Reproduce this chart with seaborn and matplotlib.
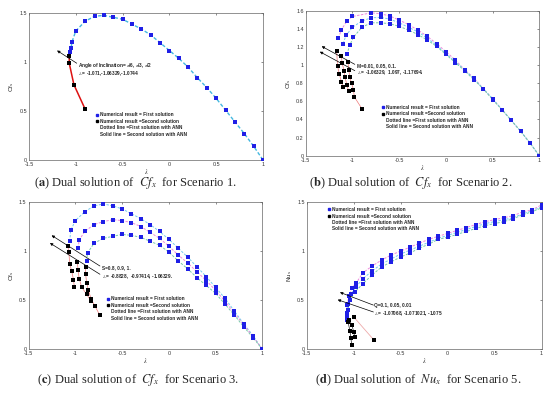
import numpy as np
import pandas as pd
import matplotlib
matplotlib.use("Agg")
import matplotlib.pyplot as plt
from matplotlib.lines import Line2D
import seaborn as sns

sns.set_style("white")
plt.rcParams['font.family'] = ['Liberation Sans', 'DejaVu Sans']
plt.rcParams['mathtext.fontset'] = 'stix'

BLUE = '#1f1fe6'

# ---- (a) Cf_x, Scenario 1 ----
lam_a1 = [-1.06, -1.05, -1.04, -1.0, -0.9, -0.8, -0.7, -0.6, -0.5, -0.4, -0.3, -0.2, -0.1, 0.0,
          0.1, 0.2, 0.3, 0.4, 0.5, 0.6, 0.7, 0.8, 0.9, 1.0]
cf_a1 = [1.10, 1.15, 1.21, 1.32, 1.42, 1.47, 1.48, 1.46, 1.44, 1.39, 1.34, 1.28, 1.20, 1.12,
         1.04, 0.95, 0.84, 0.74, 0.63, 0.51, 0.39, 0.27, 0.14, 0.0]
lam_a2 = [-1.07, -1.07, -1.02, -0.9]
cf_a2 = [1.06, 0.99, 0.77, 0.52]

# ---- (b) Cf_x, Scenario 2 (M = 0.01, 0.05, 0.1) ----
lam_b1 = [-1.15, -1.12, -1.06, -1.0, -0.8, -0.7, -0.6, -0.5, -0.4, -0.3, -0.2, -0.1, 0.0,
          0.1, 0.2, 0.3, 0.4, 0.5, 0.6, 0.7, 0.8, 0.9, 1.0]
cf_b1 = [1.30, 1.39, 1.49, 1.54, 1.58, 1.57, 1.545, 1.50, 1.45, 1.39, 1.32, 1.24, 1.15,
         1.06, 0.95, 0.86, 0.74, 0.63, 0.51, 0.39, 0.27, 0.14, 0.0]
lam_b2 = [-1.1, -1.07, -1.0, -0.9, -0.8, -0.7, -0.6, -0.5, -0.4, -0.3, -0.2, -0.1, 0.0,
          0.1, 0.2, 0.3, 0.4, 0.5, 0.6, 0.7, 0.8, 0.9, 1.0]
cf_b2 = [1.24, 1.33, 1.42, 1.49, 1.525, 1.53, 1.51, 1.47, 1.42, 1.37, 1.30, 1.22, 1.13,
         1.04, 0.95, 0.85, 0.74, 0.63, 0.51, 0.39, 0.27, 0.14, 0.0]
lam_b3 = [-1.06, -1.03, -0.99, -0.9, -0.8, -0.7, -0.6, -0.5, -0.4, -0.3, -0.2, -0.1, 0.0,
          0.1, 0.2, 0.3, 0.4, 0.5, 0.6, 0.7, 0.8, 0.9, 1.0]
cf_b3 = [1.12, 1.22, 1.31, 1.42, 1.47, 1.47, 1.46, 1.43, 1.39, 1.34, 1.28, 1.21, 1.12,
         1.03, 0.94, 0.84, 0.74, 0.62, 0.51, 0.39, 0.27, 0.14, 0.0]
lam_b4 = [-1.17, -1.16, -1.14, -1.12, -1.10]
cf_b4 = [1.16, 0.99, 0.90, 0.82, 0.76]
lam_b5 = [-1.12, -1.11, -1.09, -1.08, -1.06, -1.04]
cf_b5 = [1.10, 1.02, 0.94, 0.87, 0.78, 0.71]
lam_b6 = [-1.05, -1.04, -1.03, -1.01, -0.99, -0.98, -0.9]
cf_b6 = [1.04, 0.95, 0.87, 0.80, 0.73, 0.65, 0.52]

# ---- (c) Cf_x, Scenario 3 (S = 0.8, 0.9, 1) ----
lam_c1 = [-1.06, -1.05, -1.0, -0.9, -0.8, -0.7, -0.6, -0.5, -0.4, -0.3, -0.2, -0.1, 0.0,
          0.1, 0.2, 0.3, 0.4, 0.5, 0.6, 0.7, 0.8, 0.9, 1.0]
cf_c1 = [1.10, 1.21, 1.31, 1.40, 1.46, 1.48, 1.46, 1.43, 1.38, 1.33, 1.27, 1.20, 1.12,
         1.03, 0.94, 0.84, 0.74, 0.63, 0.52, 0.39, 0.26, 0.14, 0.0]
lam_c2 = [-0.97, -0.96, -0.9, -0.8, -0.7, -0.6, -0.5, -0.4, -0.3, -0.2, -0.1, 0.0,
          0.1, 0.2, 0.3, 0.4, 0.5, 0.6, 0.7, 0.8, 0.9, 1.0]
cf_c2 = [1.03, 1.11, 1.20, 1.27, 1.30, 1.32, 1.31, 1.29, 1.25, 1.19, 1.13, 1.05,
         0.96, 0.88, 0.79, 0.70, 0.60, 0.49, 0.37, 0.25, 0.13, 0.0]
lam_c3 = [-0.88, -0.87, -0.8, -0.7, -0.6, -0.5, -0.4, -0.3, -0.2, -0.1, 0.0,
          0.1, 0.2, 0.3, 0.4, 0.5, 0.6, 0.7, 0.8, 0.9, 1.0]
cf_c3 = [0.90, 0.98, 1.08, 1.13, 1.15, 1.17, 1.16, 1.14, 1.10, 1.06, 0.99,
         0.90, 0.82, 0.73, 0.65, 0.57, 0.46, 0.35, 0.23, 0.12, 0.0]
lam_c4 = [-1.08, -1.07, -1.06, -1.04, -1.02, -1.01]
cf_c4 = [1.05, 0.99, 0.87, 0.80, 0.71, 0.63]
lam_c5 = [-0.98, -0.97, -0.96, -0.93, -0.88, -0.83]
cf_c5 = [0.89, 0.81, 0.72, 0.63, 0.56, 0.49]
lam_c6 = [-0.89, -0.89, -0.88, -0.86, -0.83, -0.79, -0.74]
cf_c6 = [0.84, 0.77, 0.68, 0.60, 0.51, 0.44, 0.35]

# ---- (d) Nu_x, Scenario 5 (Q = 0.1, 0.05, 0.01) ----
lam_d1 = [-1.07, -1.07, -1.05, -1.02, -0.97, -0.9, -0.8, -0.7, -0.6, -0.5, -0.4, -0.3, -0.2,
          -0.1, 0.0, 0.1, 0.2, 0.3, 0.4, 0.5, 0.6, 0.7, 0.8, 0.9, 1.0]
nu_d1 = [0.37, 0.45, 0.54, 0.62, 0.68, 0.78, 0.85, 0.91, 0.96, 1.00, 1.04, 1.08, 1.12,
         1.15, 1.18, 1.21, 1.24, 1.27, 1.30, 1.32, 1.34, 1.36, 1.40, 1.42, 1.47]
lam_d2 = [-1.07, -1.06, -1.03, -0.98, -0.9, -0.8, -0.7, -0.6, -0.5, -0.4, -0.3, -0.2,
          -0.1, 0.0, 0.1, 0.2, 0.3, 0.4, 0.5, 0.6, 0.7, 0.8, 0.9, 1.0]
nu_d2 = [0.34, 0.46, 0.56, 0.63, 0.72, 0.80, 0.87, 0.92, 0.97, 1.01, 1.05, 1.09,
         1.13, 1.16, 1.19, 1.22, 1.25, 1.28, 1.30, 1.32, 1.34, 1.38, 1.41, 1.45]
lam_d3 = [-1.07, -1.06, -1.04, -0.99, -0.9, -0.8, -0.7, -0.6, -0.5, -0.4, -0.3, -0.2,
          -0.1, 0.0, 0.1, 0.2, 0.3, 0.4, 0.5, 0.6, 0.7, 0.8, 0.9, 1.0]
nu_d3 = [0.30, 0.40, 0.50, 0.58, 0.67, 0.76, 0.84, 0.89, 0.94, 0.98, 1.03, 1.07,
         1.12, 1.14, 1.17, 1.20, 1.23, 1.26, 1.28, 1.30, 1.33, 1.37, 1.40, 1.44]
lam_d4 = [-1.06, -1.04, -1.03, -1.02]
nu_d4 = [0.28, 0.19, 0.12, 0.04]
lam_d5 = [-1.05, -1.02, -1.0, -0.99]
nu_d5 = [0.30, 0.25, 0.18, 0.13]
lam_d6 = [-1.0, -0.78]
nu_d6 = [0.33, 0.09]

x_ticks = [-1.5, -1, -0.5, 0, 0.5, 1]
x_ticklabels = ['-1.5', '-1', '-0.5', '0', '0.5', '1']
legend_labels = ['Numerical result = First solution', 'Numerical result =Second solution',
                 'Dotted line =First solution with ANN', 'Solid line = Second solution with ANN']


def first_sol(ax, lam, val, color, lw=0.7):
    sns.lineplot(x=lam, y=val, sort=False, estimator=None, color=color, lw=lw,
                 ls=(0, (2.5, 1.5)), ax=ax)
    sns.scatterplot(x=lam, y=val, color=BLUE, marker='s', s=5, linewidth=0, ax=ax, zorder=3)


def second_sol(ax, lam, val, color, lw=0.6):
    sns.lineplot(x=lam, y=val, sort=False, estimator=None, color=color, lw=lw, ax=ax)
    sns.scatterplot(x=lam, y=val, color='black', marker='s', s=5, linewidth=0, ax=ax, zorder=3)


def style_axes(ax, ymax, yticks, ylabel):
    ax.set_xlim(-1.5, 1)
    ax.set_ylim(0, ymax)
    ax.set_xticks(x_ticks)
    ax.set_xticklabels(x_ticklabels)
    ax.set_yticks(yticks)
    ax.set_yticklabels([('%g' % t) for t in yticks])
    ax.tick_params(direction='in', length=1.5, width=0.4, top=True, right=True,
                   labelsize=3.9, pad=1.5, colors='#333333')
    for sp in ax.spines.values():
        sp.set_linewidth(0.5)
        sp.set_color('#666666')
    ax.set_xlabel(r'$\lambda$', fontsize=4.5, labelpad=0)
    ax.set_ylabel(ylabel, fontsize=4.5, labelpad=2)


def add_legend(ax, anchor):
    handles = [Line2D([], [], marker='s', color=BLUE, ls='none', markersize=1.5),
               Line2D([], [], marker='s', color='black', ls='none', markersize=1.5),
               Line2D([], [], ls='none'), Line2D([], [], ls='none')]
    ax.legend(handles=handles, labels=legend_labels, loc='upper left', bbox_to_anchor=anchor,
              frameon=False, prop=dict(weight='bold', size=3.4), handlelength=0.5,
              handletextpad=0.4, labelspacing=0.3, borderpad=0, borderaxespad=0)


def arrow(ax, tip, tail):
    ax.annotate('', xy=tip, xytext=tail,
                arrowprops=dict(arrowstyle='-|>', color='black', lw=0.5, mutation_scale=4,
                                shrinkA=0, shrinkB=0))


def note(ax, x, y, s):
    ax.text(x, y, s, fontsize=3.4, fontweight='bold', ha='left', va='center')


fig = plt.figure(figsize=(5.5, 3.94), dpi=100)
ax_a = fig.add_axes([0.0527, 0.594, 0.4255, 0.372])
ax_b = fig.add_axes([0.556, 0.605, 0.4245, 0.367])
ax_c = fig.add_axes([0.052, 0.1134, 0.425, 0.374])
ax_d = fig.add_axes([0.5576, 0.1134, 0.427, 0.374])

# (a)
first_sol(ax_a, lam_a1, cf_a1, '#44b8e0', lw=1.0)
second_sol(ax_a, lam_a2, cf_a2, '#dd1111', lw=1.1)
style_axes(ax_a, 1.5, [0, 0.5, 1, 1.5], r'Cf$_{\rm x}$')
arrow(ax_a, (-1.2, 1.12), (-0.99, 0.99))
note(ax_a, -0.98, 0.97, r'Angle of Inclination= $\pi$/6, $\pi$/3, $\pi$/2')
note(ax_a, -0.98, 0.88, r'$\lambda_c$= -1.071,-1.06329,-1.0744')
add_legend(ax_a, (0.285, 0.325))

# (b)
first_sol(ax_b, lam_b1, cf_b1, '#ee88dd')
first_sol(ax_b, lam_b2, cf_b2, '#77ccee')
first_sol(ax_b, lam_b3, cf_b3, '#77ccaa')
for lam, cf in [(lam_b4, cf_b4), (lam_b5, cf_b5), (lam_b6, cf_b6)]:
    second_sol(ax_b, lam, cf, '#ee7777', lw=0.5)
style_axes(ax_b, 1.6, [0, 0.2, 0.4, 0.6, 0.8, 1, 1.2, 1.4, 1.6], r'Cf$_{\rm x}$')
arrow(ax_b, (-1.33, 1.21), (-0.975, 1.01))
arrow(ax_b, (-1.35, 1.15), (-0.975, 0.94))
note(ax_b, -0.95, 1.0, 'M=0.01, 0.05, 0.1.')
note(ax_b, -0.95, 0.92, r'$\lambda_c$= -1.06329,  1.097, -1.17694.')
add_legend(ax_b, (0.325, 0.35))

# (c)
first_sol(ax_c, lam_c1, cf_c1, '#77ccee')
first_sol(ax_c, lam_c2, cf_c2, '#ee88dd')
first_sol(ax_c, lam_c3, cf_c3, '#77ccaa')
for lam, cf in [(lam_c4, cf_c4), (lam_c5, cf_c5), (lam_c6, cf_c6)]:
    second_sol(ax_c, lam, cf, '#ee7777', lw=0.5)
style_axes(ax_c, 1.5, [0, 0.5, 1, 1.5], r'Cf$_{\rm x}$')
arrow(ax_c, (-1.254, 1.16), (-0.737, 0.848))
arrow(ax_c, (-1.272, 1.082), (-0.737, 0.764))
note(ax_c, -0.718, 0.83, 'S=0.8, 0.9, 1.')
note(ax_c, -0.718, 0.736, r'$\lambda_c$= -0.8828,  -0.97414, -1.06329.')
add_legend(ax_c, (0.335, 0.36))

# (d)
first_sol(ax_d, lam_d1, nu_d1, '#ee88dd')
first_sol(ax_d, lam_d2, nu_d2, '#77ccee')
first_sol(ax_d, lam_d3, nu_d3, '#77ccaa')
second_sol(ax_d, lam_d4, nu_d4, '#222222', lw=0.5)
second_sol(ax_d, lam_d5, nu_d5, '#222222', lw=0.5)
second_sol(ax_d, lam_d6, nu_d6, '#eeaaaa', lw=0.6)
style_axes(ax_d, 1.5, [0, 0.5, 1, 1.5], r'Nu$_{\rm x}$')
arrow(ax_d, (-1.146, 0.58), (-0.79, 0.45))
arrow(ax_d, (-1.17, 0.505), (-0.79, 0.38))
note(ax_d, -0.78, 0.45, 'Q=0.1, 0.05, 0.01')
note(ax_d, -0.78, 0.36, r'$\lambda_c$= -1.07068, -1.071021, -1.075')
add_legend(ax_d, (0.09, 0.965))

cap = dict(ha='center', va='center', fontsize=9, family='Liberation Serif')
fig.text(0.247, 0.535, r'($\mathbf{a}$) Dual solution of  $Cf_x$  for Scenario 1.', **cap)
fig.text(0.747, 0.535, r'($\mathbf{b}$) Dual solution of  $Cf_x$  for Scenario 2.', **cap)
fig.text(0.251, 0.036, r'($\mathbf{c}$) Dual solution of  $Cf_x$  for Scenario 3.', **cap)
fig.text(0.760, 0.036, r'($\mathbf{d}$) Dual solution of  $Nu_x$  for Scenario 5.', **cap)

fig.savefig('out.png', dpi=100, facecolor='white')
